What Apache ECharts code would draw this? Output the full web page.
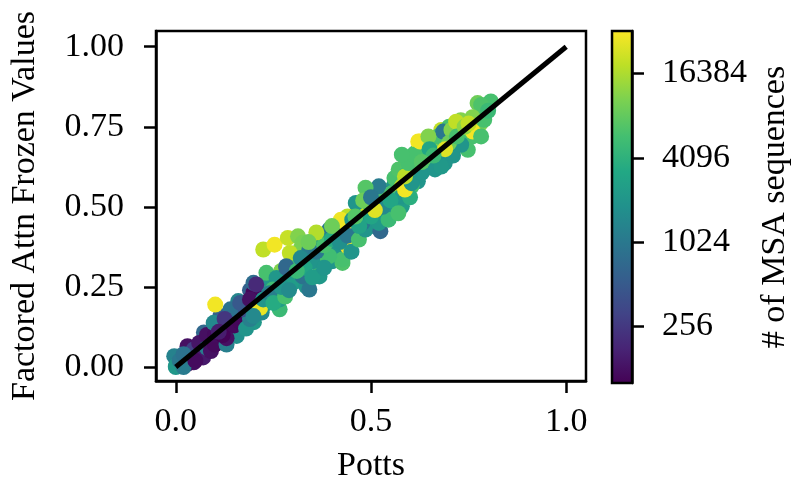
<!DOCTYPE html>
<html>
<head>
<meta charset="utf-8">
<script src="https://cdn.jsdelivr.net/npm/echarts@6/dist/echarts.min.js"></script>
<style>html,body{margin:0;padding:0;background:#fff}#c{width:797px;height:488px}</style>
</head>
<body>
<div id="c"></div>
<script>
// ---- data ----
var potts = [
  0.00,-0.004,0.00,0.01,0.03,0.046,0.046,0.03,0.02,0.06,0.07,0.072,0.06,0.089,0.08,0.09,0.10,
  0.02,0.05,0.08,0.10,0.12,0.135,0.16,0.17,0.19,0.15,0.13,0.20,0.22,0.21,0.23,0.19,
  0.114,0.14,0.148,0.114,0.097,0.156,0.173,0.16,0.13,0.12,0.15,0.165,0.18,0.19,0.17,0.14,0.125,0.101,0.11,0.18,0.165,0.199,0.19,0.20,
  0.26,0.30,0.31,0.33,0.35,0.37,0.39,0.39,0.41,0.43,0.45,0.46,0.48,0.49,0.51,0.52,0.54,0.56,0.57,0.58,0.55,0.53,
  0.44,0.47,0.50,0.53,0.56,0.58,0.61,0.63,0.66,0.68,0.70,0.73,0.74,0.76,0.78,0.71,0.68,0.62,0.55,0.50,0.43,0.40,0.37,0.28,0.25,0.22,0.30,0.27,0.32,0.34,
  0.224,0.216,0.266,0.199,0.199,0.232,0.232,0.224,0.253,0.287,0.313,0.292,0.325,0.342,0.283,0.30,0.266,0.206,0.258,0.283,0.30,0.334,0.325,0.249,0.224,0.266,0.24,0.25,0.28,0.27,0.29,
  0.342,0.368,0.376,0.402,0.427,0.418,0.393,0.435,0.368,0.423,0.41,0.427,0.393,0.44,0.35,0.36,0.38,0.33,0.31,0.35,0.40,0.42,0.44,0.45,0.38,0.32,0.36,0.40,0.34,
  0.62,0.64,0.65,0.67,0.69,0.71,0.73,0.75,0.77,0.72,0.62,0.66,0.70,0.78,0.80,
  0.469,0.486,0.478,0.524,0.52,0.511,0.52,0.537,0.562,0.579,0.554,0.579,0.604,0.579,0.571,0.469,0.452,0.495,0.461,0.486,0.545,0.50,0.47,0.53,0.51,0.55,0.60,0.57,0.48,0.50,0.46,0.60,0.59,
  0.613,0.587,0.604,0.587,0.63,0.596,0.647,0.613,0.621,0.638,0.672,0.689,0.706,0.748,0.731,0.676,0.659,0.672,0.685,0.706,0.718,0.761,0.79,0.782,0.664,0.68,0.609,0.579,0.626,0.647,0.65,0.70,0.72,0.74,0.69,0.66,0.63,
  0.773,0.807,0.782,0.76,0.80,0.75
];
var factored = [
  0.00,0.034,0.003,0.02,0.065,0.055,0.015,0.01,0.04,0.04,0.03,0.108,0.075,0.086,0.06,0.05,0.07,
  0.00,0.02,0.10,0.10,0.12,0.13,0.16,0.14,0.17,0.10,0.07,0.14,0.17,0.22,0.24,0.24,
  0.128,0.117,0.149,0.159,0.138,0.097,0.159,0.206,0.09,0.10,0.13,0.14,0.12,0.15,0.18,0.18,0.15,0.195,0.11,0.20,0.20,0.232,0.211,0.17,
  0.27,0.31,0.27,0.35,0.37,0.34,0.36,0.41,0.43,0.42,0.43,0.45,0.48,0.46,0.47,0.52,0.55,0.57,0.55,0.58,0.50,0.47,
  0.47,0.50,0.51,0.54,0.59,0.62,0.63,0.67,0.71,0.74,0.75,0.77,0.70,0.72,0.76,0.66,0.65,0.58,0.48,0.44,0.37,0.33,0.31,0.27,0.23,0.20,0.33,0.30,0.37,0.36,
  0.19,0.185,0.18,0.159,0.263,0.263,0.294,0.367,0.382,0.403,0.408,0.356,0.388,0.367,0.315,0.283,0.242,0.258,0.278,0.31,0.263,0.252,0.283,0.242,0.211,0.211,0.23,0.20,0.22,0.25,0.24,
  0.242,0.283,0.325,0.356,0.325,0.419,0.429,0.45,0.398,0.46,0.388,0.336,0.346,0.377,0.33,0.36,0.38,0.31,0.30,0.28,0.40,0.39,0.41,0.36,0.31,0.34,0.42,0.44,0.39,
  0.60,0.62,0.64,0.66,0.70,0.69,0.71,0.73,0.75,0.74,0.65,0.69,0.72,0.79,0.82,
  0.398,0.429,0.45,0.424,0.45,0.543,0.564,0.512,0.491,0.502,0.543,0.564,0.564,0.533,0.617,0.491,0.46,0.512,0.512,0.56,0.46,0.47,0.44,0.50,0.49,0.52,0.53,0.48,0.52,0.53,0.47,0.59,0.60,
  0.617,0.554,0.574,0.595,0.606,0.637,0.647,0.668,0.704,0.678,0.626,0.637,0.668,0.678,0.694,0.699,0.709,0.72,0.735,0.74,0.766,0.735,0.772,0.72,0.617,0.626,0.663,0.663,0.704,0.72,0.68,0.70,0.72,0.75,0.68,0.66,0.64,
  0.824,0.829,0.818,0.78,0.80,0.76
];
var msaCount = [
  2000,1300,2200,1000,130,300,130,125,900,1000,150,700,140,120,1100,130,115,
  1100,120,130,120,110,125,140,130,150,2000,1200,2200,1500,700,1000,600,
  120,110,125,600,1500,1800,700,1400,130,105,115,110,2000,1200,400,900,250,30000,160,160,500,110,130,2200,
  1000,900,6000,1100,900,2000,5000,1000,2000,1000,6000,1000,2000,6000,1000,2000,6000,2000,1000,6000,6000,2000,
  18000,6000,30000,11000,6000,11000,19000,6000,30000,19000,6000,11000,2000,6000,11000,2000,6000,2000,1000,2000,1000,2000,6000,1000,2000,1000,6000,11000,11000,6000,
  2000,28000,5000,1500,800,2200,6000,19000,30000,20000,11000,19000,10000,1100,800,2000,700,200,2100,700,2400,2000,900,5500,2000,2500,1200,3500,6000,2000,1600,
  1000,2200,6000,2000,6500,7000,1000,30000,2200,29000,2000,6000,5500,30000,2000,1000,6000,3000,5000,2400,3500,1800,1000,2000,2000,1500,17000,9000,9000,
  2000,6000,2000,6000,2000,6000,11000,6000,9000,6000,11000,11000,19000,6000,6000,
  6000,2000,1000,700,2200,6000,1100,18000,2000,2500,6000,18000,6000,2100,6500,19000,2000,6000,2000,7000,5000,3000,2800,1500,25000,3000,3800,6000,9000,1000,7000,30000,5000,
  11000,30000,2000,18000,2000,6000,18000,6000,30000,6000,1000,2000,2000,6000,2000,19000,11000,6000,1000,11000,19000,30000,6000,6000,2000,2200,6000,6000,30000,11000,3000,9000,6000,12000,25000,5000,7000,
  9000,6000,6500,11000,5000,19000
];
var lineX = [0, 1];
var lineY = [0, 1];
var xTicks = [0, 0.5, 1];
var yTicks = [0, 0.25, 0.5, 0.75, 1];
var cbarTicks = [256, 1024, 4096, 16384];
var cbarMin = 101, cbarMax = 33000;

var viridis = ['#440154','#482475','#414487','#355f8d','#2a788e','#21918c','#22a884','#44bf70','#7ad151','#bddf26','#fde725'];

// ---- build ----
var log2 = function (v) { return Math.log(v) / Math.LN2; };
var pts = potts.map(function (x, i) { return [x, factored[i], log2(msaCount[i])]; });
var lineData = lineX.map(function (x, i) { return [x, lineY[i]]; });
var cMin = log2(cbarMin), cMax = log2(cbarMax);
var FONT = 'Liberation Serif';
var FS = 34;
var tickStyle = {show: true, inside: false, length: 12, lineStyle: {color: '#000', width: 2.5}};
var lineAx = {show: true, onZero: false, lineStyle: {color: '#000', width: 2.5}};

var chart = echarts.init(document.getElementById('c'), null, {renderer: 'canvas'});
chart.setOption({
  animation: false,
  textStyle: {fontFamily: FONT, color: '#000'},
  grid: [
    {left: 152, top: 31, width: 434, height: 351, show: true, borderColor: '#000', borderWidth: 2.5, backgroundColor: 'transparent'},
    {left: 612, top: 31, width: 20, height: 352, show: false}
  ],
  xAxis: [
    {gridIndex: 0, type: 'value', min: -0.0507, max: 1.0507,
     name: 'Potts', nameLocation: 'middle', nameGap: 68,
     nameTextStyle: {fontFamily: FONT, fontSize: FS, color: '#000'},
     axisLine: lineAx, splitLine: {show: false},
     axisTick: Object.assign({customValues: xTicks}, tickStyle),
     axisLabel: {show: true, margin: 24, fontFamily: FONT, fontSize: FS, color: '#000', customValues: xTicks,
       formatter: function (v) { return v.toFixed(1); }}},
    {gridIndex: 1, type: 'value', min: 0, max: 1, show: false}
  ],
  yAxis: [
    {gridIndex: 0, type: 'value', min: -0.0436, max: 1.049,
     name: 'Factored Attn Frozen Values', nameLocation: 'middle', nameGap: 114,
     nameTextStyle: {fontFamily: FONT, fontSize: FS, color: '#000'},
     axisLine: lineAx, splitLine: {show: false},
     axisTick: Object.assign({customValues: yTicks}, tickStyle),
     axisLabel: {show: true, margin: 32, fontFamily: FONT, fontSize: FS, color: '#000', customValues: yTicks,
       formatter: function (v) { return v.toFixed(2); }}},
    {gridIndex: 1, type: 'value', position: 'right', min: cMin, max: cMax,
     name: '# of MSA sequences', nameLocation: 'middle', nameGap: 126,
     nameTextStyle: {fontFamily: FONT, fontSize: FS, color: '#000'},
     axisLine: lineAx, splitLine: {show: false},
     axisTick: Object.assign({customValues: cbarTicks.map(log2)}, tickStyle),
     axisLabel: {show: true, margin: 30, fontFamily: FONT, fontSize: FS, color: '#000', customValues: cbarTicks.map(log2),
       formatter: function (v) { return String(Math.round(Math.pow(2, v))); }}}
  ],
  visualMap: {type: 'continuous', show: false, seriesIndex: 0, dimension: 2, min: cMin, max: cMax,
    inRange: {color: viridis}},
  series: [
    {type: 'scatter', xAxisIndex: 0, yAxisIndex: 0, data: pts, symbolSize: 16,
     itemStyle: {opacity: 1}, z: 2},
    {type: 'line', xAxisIndex: 0, yAxisIndex: 0, data: lineData, symbol: 'none',
     lineStyle: {color: '#000', width: 5, cap: 'butt'}, z: 5},
    {type: 'custom', xAxisIndex: 1, yAxisIndex: 1, data: [[0, cMin, 1, cMax]], z: 1,
     renderItem: function (params, api) {
       var p0 = api.coord([api.value(0), api.value(3)]);
       var p1 = api.coord([api.value(2), api.value(1)]);
       var stops = viridis.map(function (c, i) { return {offset: i / (viridis.length - 1), color: c}; });
       return {type: 'rect', shape: {x: p0[0], y: p0[1], width: p1[0] - p0[0], height: p1[1] - p0[1]},
         style: {fill: new echarts.graphic.LinearGradient(0, 1, 0, 0, stops), stroke: '#000', lineWidth: 2.5}};
     }}
  ]
});
</script>
</body>
</html>
